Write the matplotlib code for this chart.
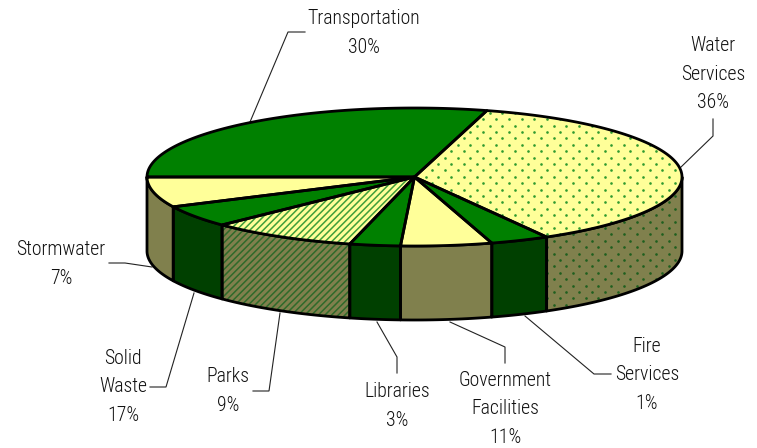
import numpy as np
import matplotlib
matplotlib.use("Agg")
import matplotlib.pyplot as plt
from matplotlib.patches import Polygon

# ---- data ----
categories = ["Water\nServices", "Fire\nServices", "Government\nFacilities", "Libraries",
              "Parks", "Solid\nWaste", "Stormwater", "Transportation"]
percents = [36, 1, 11, 3, 9, 17, 7, 30]
# drawn slice widths in degrees (the drawn wedges differ from the printed percentages)
slice_degrees = [134.7, 12.8, 19.8, 11.0, 32.0, 18.4, 25.6, 105.7]
fills = ["dots", "green", "yellow", "green", "stripes", "green", "yellow", "green"]
label_xy = [(713, 74), (647, 375), (505, 409), (397, 406), (228, 391), (123, 387), (61, 264), (364, 33)]
leaders = [
    [(680, 168), (713, 136), (713, 119)],
    [(525, 316), (594, 374), (611, 374)],
    [(450, 322), (505, 347), (505, 363)],
    [(377, 322), (397, 357), (397, 373)],
    [(280, 313), (269, 391), (253, 391)],
    [(194, 293), (166, 387), (150, 387)],
    [(152, 267), (125, 263), (109, 263)],
    [(250, 122), (288, 32), (305, 32)],
]
start_angle = 74.3

# ---- geometry / style ----
CX, CY, RX, RY, DEPTH = 414.5, 177.0, 267.5, 69.0, 74.0
GREEN, YELLOW, DGREEN, DYELLOW = "#008000", "#FFFF99", "#004000", "#80804D"
LW = 2.0
plt.rcParams["hatch.linewidth"] = 1.1
plt.rcParams["font.family"] = ["Roboto Condensed", "Archivo Narrow", "Liberation Sans", "DejaVu Sans"]

fig = plt.figure(figsize=(7.57, 4.48), dpi=100, facecolor="white")
ax = fig.add_axes([0, 0, 1, 1])
ax.set_xlim(0, 757)
ax.set_ylim(448, 0)
ax.axis("off")


def rim(a1, a2, dz=0.0, n=120):
    t = np.radians(np.linspace(a1, a2, n))
    return np.column_stack([CX + RX * np.cos(t), CY - RY * np.sin(t) + dz])


def dots(patch, color, z):
    xs, ys = [], []
    for i, y in enumerate(np.arange(100, 340, 6.4)):
        row = np.arange(400 + (6.4 if i % 2 else 0), 700, 12.8)
        xs.extend(row)
        ys.extend([y] * len(row))
    s = ax.scatter(xs, ys, s=3.6, color=color, linewidths=0, zorder=z)
    s.set_clip_path(patch)


def paint(verts, kind, side, z):
    base = {"green": DGREEN if side else GREEN, "yellow": DYELLOW if side else YELLOW,
            "dots": DYELLOW if side else YELLOW, "stripes": DYELLOW if side else YELLOW}[kind]
    if kind == "stripes":
        ax.add_patch(Polygon(verts, closed=True, facecolor=base, linewidth=0, zorder=z,
                             edgecolor="#2F6A2A" if side else "#3E9E3A", hatch="/////"))
    else:
        p = Polygon(verts, closed=True, facecolor=base, edgecolor="none", zorder=z)
        ax.add_patch(p)
        if kind == "dots":
            dots(p, "#1F5F1F" if side else "#2F9A2F", z + 0.1)
    ax.add_patch(Polygon(verts, closed=True, facecolor="none", edgecolor="black",
                         linewidth=LW, joinstyle="round", zorder=z + 0.2))


edges = start_angle - np.concatenate([[0], np.cumsum(slice_degrees)])

# sides: only the front half of the rim shows
for a1, a2, kind in zip(edges[:-1], edges[1:], fills):
    lo, hi = max(a2, -180.0), min(a1, 0.0)
    if lo < hi:
        top = rim(hi, lo)
        bottom = rim(lo, hi, DEPTH)
        paint(np.vstack([top, bottom]), kind, True, 2)

# top face
for a1, a2, kind in zip(edges[:-1], edges[1:], fills):
    paint(np.vstack([[CX, CY], rim(a1, a2)]), kind, False, 3)

# labels and leader lines
for cat, pct, (x, y), pts in zip(categories, percents, label_xy, leaders):
    ax.text(x, y, f"{cat}\n{pct}%", ha="center", va="center", ma="center",
            fontsize=14.2, fontweight="light", color="#111111", linespacing=1.63, zorder=5)
    ax.plot(*zip(*pts), color="#222222", lw=0.8, zorder=1, solid_joinstyle="miter")

fig.savefig("out.png", dpi=100, facecolor="white")
